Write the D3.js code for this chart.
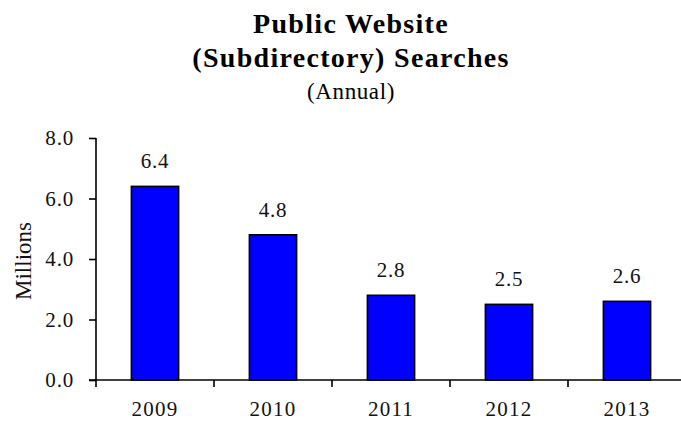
<!DOCTYPE html>
<html>
<head>
<meta charset="utf-8">
<script src="https://cdn.jsdelivr.net/npm/d3@7"></script>
<style>
  html, body { margin: 0; padding: 0; background: #fff; }
  svg { display: block; font-family: "Liberation Serif", "Times New Roman", serif; }
</style>
</head>
<body>
<svg id="chart" width="681" height="421"></svg>
<script>
// Annual subdirectory searches on the public website, in millions
const years = ["2009", "2010", "2011", "2012", "2013"];
const searches = [6.4, 4.8, 2.8, 2.5, 2.6];
const yTicks = [0, 2, 4, 6, 8];
const titleLines = ["Public Website", "(Subdirectory) Searches"];
const subtitle = "(Annual)";
const yLabel = "Millions";

const svg = d3.select("#chart");

const x = d3.scaleBand()
  .domain(years)
  .range([96, 686])
  .paddingInner(0.6)
  .paddingOuter(0.3);

const y = d3.scaleLinear()
  .domain([0, 8])
  .range([380, 138]);

// Titles
const titleX = 351;
svg.append("text")
  .attr("x", titleX).attr("y", 33)
  .attr("text-anchor", "middle")
  .attr("font-size", 28).attr("font-weight", "bold")
  .attr("letter-spacing", 1.3)
  .text(titleLines[0]);
svg.append("text")
  .attr("x", titleX).attr("y", 67)
  .attr("text-anchor", "middle")
  .attr("font-size", 28).attr("font-weight", "bold")
  .attr("letter-spacing", 1.3)
  .text(titleLines[1]);
svg.append("text")
  .attr("x", titleX).attr("y", 99)
  .attr("text-anchor", "middle")
  .attr("font-size", 23)
  .attr("letter-spacing", 0.6)
  .text(subtitle);

// Bars
svg.append("g")
  .selectAll("rect")
  .data(years.map((yr, i) => ({ yr, v: searches[i] })))
  .join("rect")
  .attr("x", d => x(d.yr))
  .attr("y", d => y(d.v))
  .attr("width", x.bandwidth())
  .attr("height", d => y(0) - y(d.v))
  .attr("fill", "#0000ff")
  .attr("stroke", "#000")
  .attr("stroke-width", 1.6);

// Value labels
svg.append("g")
  .selectAll("text")
  .data(years.map((yr, i) => ({ yr, v: searches[i] })))
  .join("text")
  .attr("x", d => x(d.yr) + x.bandwidth() / 2)
  .attr("y", d => y(d.v) - 18)
  .attr("text-anchor", "middle")
  .attr("font-size", 21)
  .attr("letter-spacing", 0.8)
  .attr("fill", "#111")
  .text(d => d.v.toFixed(1));

// Y axis
const yAxis = svg.append("g")
  .attr("transform", "translate(96,0)")
  .call(d3.axisLeft(y).tickValues(yTicks).tickFormat(d3.format(".1f")).tickSize(7).tickPadding(15));
yAxis.select(".domain").attr("stroke", "#000").attr("stroke-width", 1.6)
  .attr("d", `M0,${y(8)}V${y(0)}`);
yAxis.selectAll(".tick line").attr("stroke", "#000").attr("stroke-width", 1.6);
yAxis.selectAll(".tick text")
  .attr("font-family", "Liberation Serif, serif")
  .attr("font-size", 21)
  .attr("letter-spacing", 0.8)
  .attr("fill", "#111")
  .attr("dy", "0.32em");

// X axis with ticks at category boundaries
const xAxisG = svg.append("g").attr("transform", `translate(0,${y(0)})`);
xAxisG.append("line")
  .attr("x1", 89).attr("x2", 686)
  .attr("stroke", "#000").attr("stroke-width", 1.6);
const step = x.step();
const boundaries = years.map((yr, i) => x(yr) - (step - x.bandwidth()) / 2);
xAxisG.selectAll("line.bound")
  .data(boundaries)
  .join("line")
  .attr("class", "bound")
  .attr("x1", d => d).attr("x2", d => d)
  .attr("y1", 0).attr("y2", 7)
  .attr("stroke", "#000").attr("stroke-width", 1.6);
xAxisG.selectAll("text")
  .data(years)
  .join("text")
  .attr("x", d => x(d) + x.bandwidth() / 2)
  .attr("y", 36)
  .attr("text-anchor", "middle")
  .attr("font-size", 21)
  .attr("letter-spacing", 1.2)
  .attr("fill", "#111")
  .text(d => d);

// Y axis title
svg.append("text")
  .attr("transform", "translate(31,261) rotate(-90)")
  .attr("text-anchor", "middle")
  .attr("font-size", 23)
  .attr("fill", "#111")
  .text(yLabel);
</script>
</body>
</html>
